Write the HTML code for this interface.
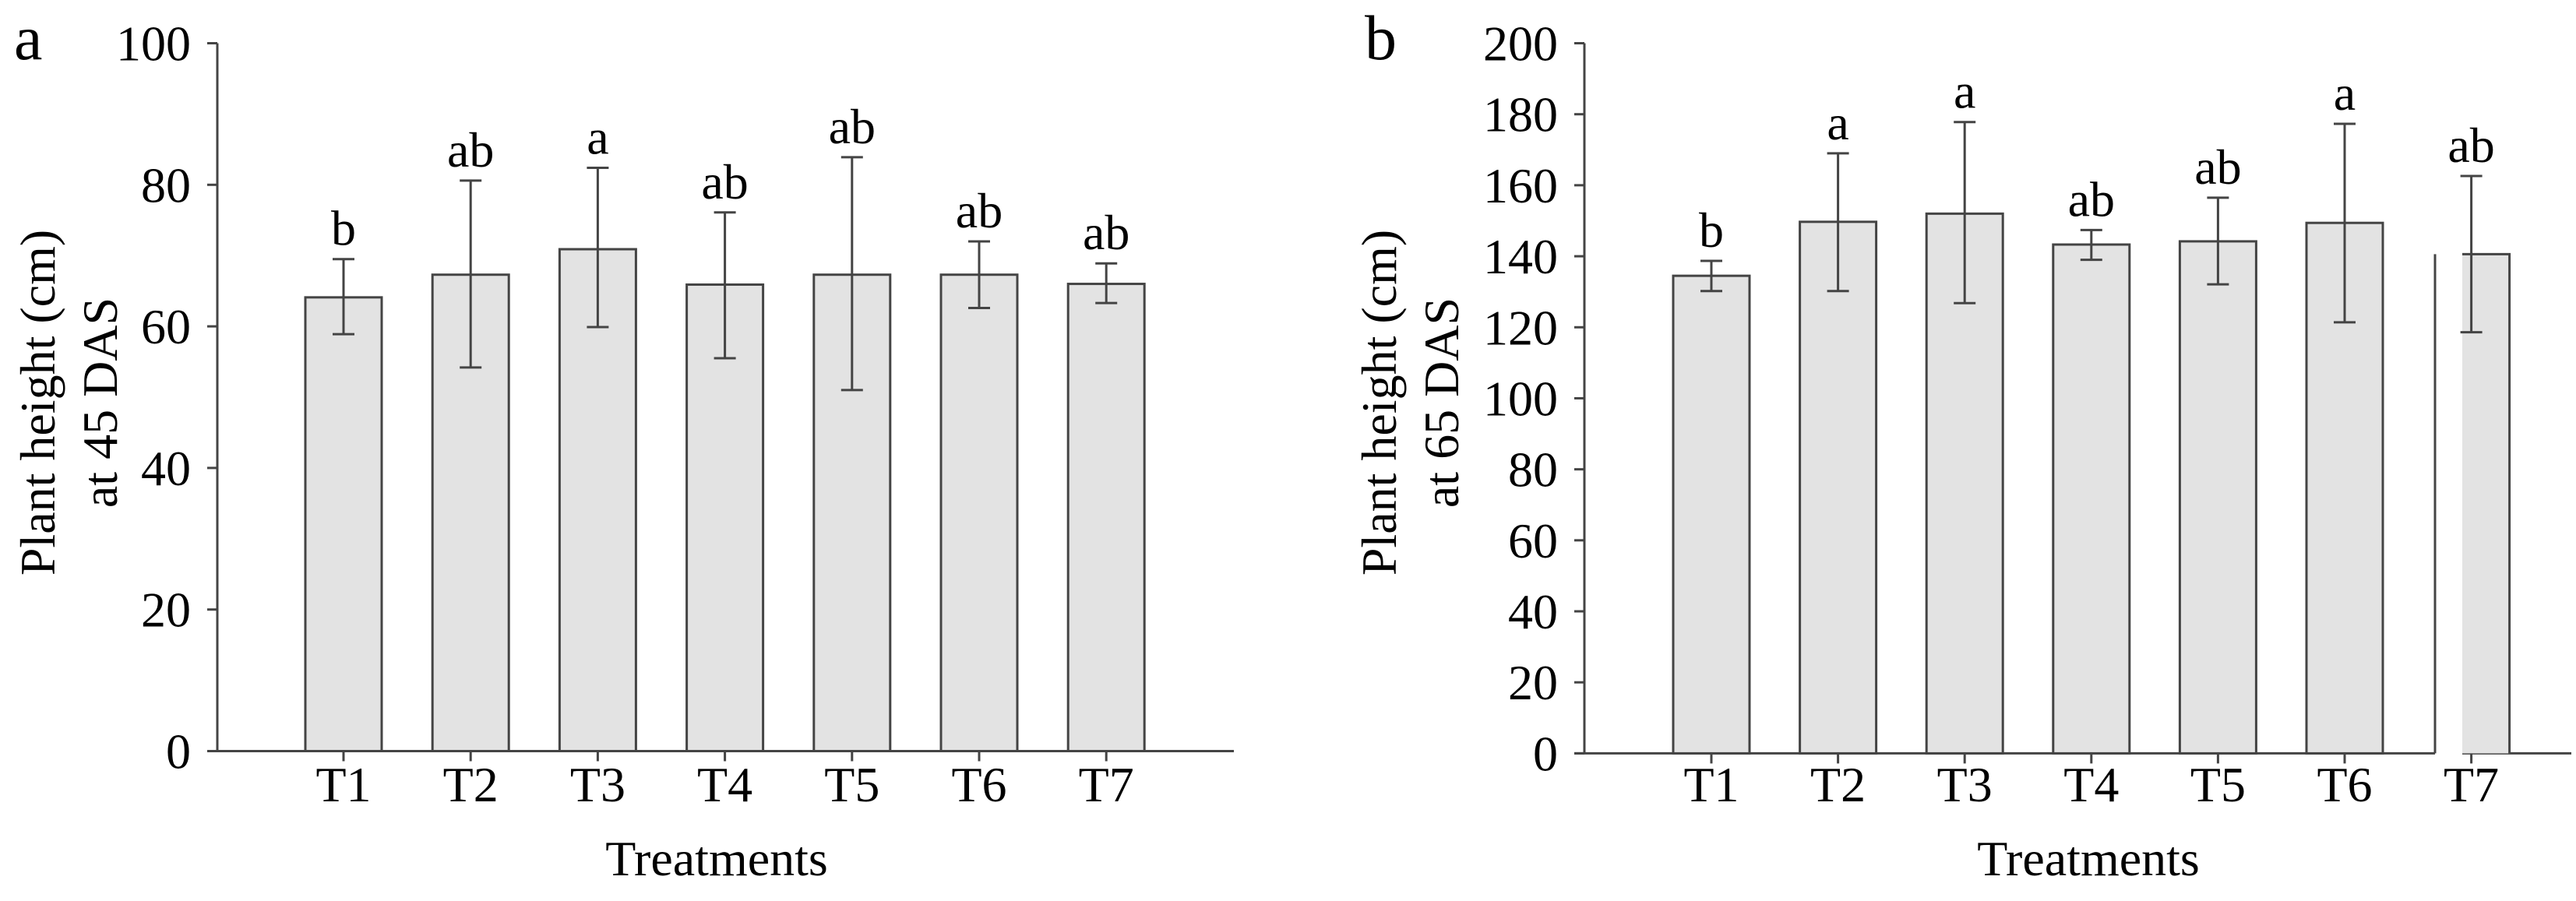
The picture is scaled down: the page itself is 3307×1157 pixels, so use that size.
<!DOCTYPE html>
<html><head><meta charset="utf-8">
<style>
html,body{margin:0;padding:0;background:#fff;}
svg{display:block;font-family:"Liberation Serif",serif;}
</style></head>
<body>
<svg id="chart" width="3307" height="1157" viewBox="0 0 3307 1157" xmlns="http://www.w3.org/2000/svg"></svg>
<script>
const categories = ["T1","T2","T3","T4","T5","T6","T7"];
const meansA = [64.1, 67.3, 70.9, 65.9, 67.3, 67.3, 66.0];
const upperA = [69.5, 80.6, 82.4, 76.1, 83.9, 72.0, 68.9];
const lowerA = [58.9, 54.2, 59.9, 55.5, 51.0, 62.6, 63.3];
const lettersA = ["b","ab","a","ab","ab","ab","ab"];
const ticksA = [0,20,40,60,80,100];
const meansB = [134.5, 149.7, 152.0, 143.3, 144.2, 149.4, 140.6];
const upperB = [138.7, 169.0, 177.8, 147.4, 156.5, 177.3, 162.6];
const lowerB = [130.2, 130.2, 126.8, 139.0, 132.1, 121.4, 118.6];
const lettersB = ["b","a","a","ab","ab","a","ab"];
const ticksB = [0,20,40,60,80,100,120,140,160,180,200];

const NS = "http://www.w3.org/2000/svg";
const svg = document.getElementById("chart");
function mk(tag, attrs, parent, text){
  const e = document.createElementNS(NS, tag);
  for (const k in attrs) e.setAttribute(k, attrs[k]);
  if (text !== undefined) e.textContent = text;
  (parent || svg).appendChild(e);
  return e;
}
const STROKE = "#444";

function panel(cfg){
  const g = mk("g", {});
  
  
  const y = v => cfg.y0 - (v / cfg.ymax) * (cfg.y0 - cfg.ytop);
  const x = i => cfg.x1 + i * cfg.step;
  const bw = 98;

  const pl = mk("text", {x: cfg.letterX, y: 76, "font-size": 82}, g, cfg.letter);
  
  

  const ya = mk("line", {x1: cfg.ax, x2: cfg.ax, y1: cfg.ytop, y2: cfg.y0, stroke: STROKE, "stroke-width": 3}, g);
  
  
  cfg.ticks.forEach(t => {
    const tl = mk("line", {x1: cfg.ax - 13, x2: cfg.ax, y1: y(t), y2: y(t), stroke: STROKE, "stroke-width": 3}, g);
    
    
    const tt = mk("text", {x: cfg.ax - 34, y: y(t) + 22, "font-size": 64, "text-anchor": "end"}, g, String(t));
    
    
  });

  if (cfg.breakX) {
    const xa1 = mk("line", {x1: cfg.ax - 13, x2: cfg.breakX, y1: cfg.y0, y2: cfg.y0, stroke: STROKE, "stroke-width": 3}, g);
    
    
    const xa2 = mk("line", {x1: cfg.breakX2, x2: cfg.axEnd, y1: cfg.y0, y2: cfg.y0, stroke: STROKE, "stroke-width": 3}, g);
    
    
  } else {
    const xa = mk("line", {x1: cfg.ax - 13, x2: cfg.axEnd, y1: cfg.y0, y2: cfg.y0, stroke: STROKE, "stroke-width": 3}, g);
    
    
  }

  categories.forEach((c, i) => {
    const cx = x(i);
    const top = y(cfg.means[i]);
    const isBroken = cfg.breakX && i === categories.length - 1;
    if (isBroken) {
      const bar = mk("rect", {x: cfg.breakX2, y: top, width: cx + bw/2 - cfg.breakX2, height: cfg.y0 - top, fill: "#e3e3e3"}, g);
      
      
      mk("polyline", {points: `${cfg.breakX2},${top} ${cx + bw/2},${top} ${cx + bw/2},${cfg.y0}`, fill: "none", stroke: STROKE, "stroke-width": 3}, g);
      const bl = mk("line", {x1: cfg.breakX, x2: cfg.breakX, y1: top, y2: cfg.y0, stroke: STROKE, "stroke-width": 3}, g);
      
      
    } else {
      const bar = mk("rect", {x: cx - bw/2, y: top, width: bw, height: cfg.y0 - top, fill: "#e3e3e3", stroke: STROKE, "stroke-width": 3}, g);
      
      
    }
    const eg = mk("g", {stroke: STROKE, "stroke-width": 3}, g);
    
    
    mk("line", {x1: cx, x2: cx, y1: y(cfg.upper[i]), y2: y(cfg.lower[i])}, eg);
    mk("line", {x1: cx - 14, x2: cx + 14, y1: y(cfg.upper[i]), y2: y(cfg.upper[i])}, eg);
    mk("line", {x1: cx - 14, x2: cx + 14, y1: y(cfg.lower[i]), y2: y(cfg.lower[i])}, eg);
    const lt = mk("text", {x: cx, y: y(cfg.upper[i]) - 18, "font-size": 64, "text-anchor": "middle"}, g, cfg.letters[i]);
    
    
    const xt = mk("line", {x1: cx, x2: cx, y1: cfg.y0, y2: cfg.y0 + 13, stroke: STROKE, "stroke-width": 3}, g);
    
    
    const xl = mk("text", {x: cx, y: 1029, "font-size": 64, "text-anchor": "middle"}, g, c);
    
    
  });

  const xt = mk("text", {x: cfg.xTitleX, y: 1124, "font-size": 64, "text-anchor": "middle"}, g, "Treatments");
  
  

  const yt = mk("text", {transform: `translate(${cfg.yTitleX},517) rotate(-90)`, "font-size": 64, "text-anchor": "middle"}, g);
  
  
  mk("tspan", {x: 0, y: 0}, yt, "Plant height (cm)");
  mk("tspan", {x: 0, y: 80}, yt, cfg.yTitle2);
}

panel({name: "panel-a", letter: "a", letterX: 18, ax: 279, axEnd: 1584, ytop: 55.5, y0: 964.5, ymax: 100,
  x1: 441, step: 163.2, means: meansA, upper: upperA, lower: lowerA, letters: lettersA, ticks: ticksA,
  xTitleX: 920, yTitleX: 70, yTitle2: "at 45 DAS"});
panel({name: "panel-b", letter: "b", letterX: 1752, ax: 2034, axEnd: 3301, ytop: 55.5, y0: 967.4, ymax: 200,
  x1: 2197, step: 162.6, means: meansB, upper: upperB, lower: lowerB, letters: lettersB, ticks: ticksB,
  xTitleX: 2681, yTitleX: 1792, yTitle2: "at 65 DAS", breakX: 3126, breakX2: 3161});
</script>
</body></html>
